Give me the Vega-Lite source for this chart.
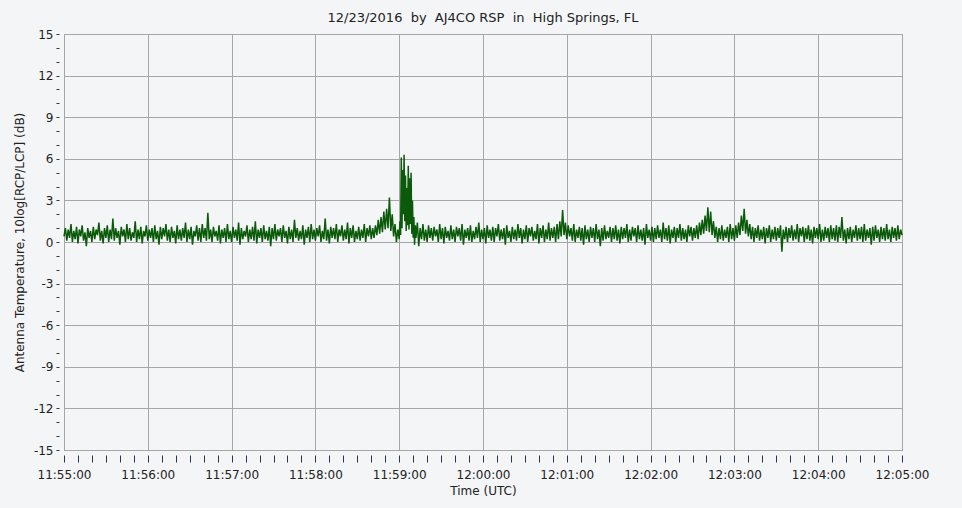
{
"$schema": "https://vega.github.io/schema/vega-lite/v6.json",
"width": 838, "height": 416,
"autosize": {"type": "none"},
"padding": {"left": 64, "top": 34, "right": 60, "bottom": 58},
"background": "#f4f5f7",
"config": {"view": {"stroke": "#9c9c9c", "fill": "#f4f5f7"}, "font": "DejaVu Sans"},
"title": {"text": "12/23/2016\u00a0\u00a0by\u00a0\u00a0AJ4CO RSP\u00a0\u00a0in\u00a0\u00a0High Springs, FL", "fontSize": 13, "fontWeight": "normal", "color": "#222222", "offset": 3, "anchor": "middle", "frame": "group"},
"data": {"values": [
{"t":0,"v":0.4},{"t":1,"v":1.0},{"t":2,"v":0.1},{"t":3,"v":0.9},{"t":4,"v":0.3},{"t":5,"v":1.3},{"t":6,"v":0.0},{"t":7,"v":0.8},{"t":8,"v":0.2},{"t":9,"v":1.1},
{"t":10,"v":-0.1},{"t":11,"v":0.9},{"t":12,"v":0.4},{"t":13,"v":1.2},{"t":14,"v":0.1},{"t":15,"v":0.7},{"t":16,"v":-0.3},{"t":17,"v":1.0},{"t":18,"v":0.3},{"t":19,"v":0.8},
{"t":20,"v":0.0},{"t":21,"v":1.1},{"t":22,"v":0.2},{"t":23,"v":0.9},{"t":24,"v":0.5},{"t":25,"v":1.4},{"t":26,"v":0.1},{"t":27,"v":0.8},{"t":28,"v":-0.1},{"t":29,"v":1.0},
{"t":30,"v":0.3},{"t":31,"v":1.2},{"t":32,"v":0.0},{"t":33,"v":0.9},{"t":34,"v":0.2},{"t":35,"v":1.7},{"t":36,"v":0.1},{"t":37,"v":1.0},{"t":38,"v":0.3},{"t":39,"v":0.8},
{"t":40,"v":-0.2},{"t":41,"v":1.1},{"t":42,"v":0.4},{"t":43,"v":0.9},{"t":44,"v":0.0},{"t":45,"v":1.3},{"t":46,"v":0.2},{"t":47,"v":1.0},{"t":48,"v":0.1},{"t":49,"v":0.7},
{"t":50,"v":0.3},{"t":51,"v":1.5},{"t":52,"v":0.0},{"t":53,"v":0.9},{"t":54,"v":0.2},{"t":55,"v":1.1},{"t":56,"v":-0.1},{"t":57,"v":0.8},{"t":58,"v":0.4},{"t":59,"v":1.2},
{"t":60,"v":0.1},{"t":61,"v":0.9},{"t":62,"v":0.3},{"t":63,"v":1.0},{"t":64,"v":0.0},{"t":65,"v":1.2},{"t":66,"v":0.2},{"t":67,"v":0.8},{"t":68,"v":-0.2},{"t":69,"v":1.1},
{"t":70,"v":0.2},{"t":71,"v":1.0},{"t":72,"v":0.4},{"t":73,"v":1.3},{"t":74,"v":0.1},{"t":75,"v":0.9},{"t":76,"v":0.0},{"t":77,"v":1.1},{"t":78,"v":0.3},{"t":79,"v":0.8},
{"t":80,"v":-0.1},{"t":81,"v":1.2},{"t":82,"v":0.2},{"t":83,"v":0.9},{"t":84,"v":0.1},{"t":85,"v":1.0},{"t":86,"v":0.3},{"t":87,"v":1.4},{"t":88,"v":0.0},{"t":89,"v":0.9},
{"t":90,"v":0.2},{"t":91,"v":1.1},{"t":92,"v":-0.2},{"t":93,"v":0.8},{"t":94,"v":0.4},{"t":95,"v":1.2},{"t":96,"v":0.1},{"t":97,"v":1.0},{"t":98,"v":0.0},{"t":99,"v":1.3},
{"t":100,"v":0.3},{"t":101,"v":1.0},{"t":102,"v":0.1},{"t":103,"v":2.1},{"t":104,"v":0.2},{"t":105,"v":0.9},{"t":106,"v":0.0},{"t":107,"v":1.1},{"t":108,"v":0.4},{"t":109,"v":0.8},
{"t":110,"v":0.1},{"t":111,"v":1.2},{"t":112,"v":-0.1},{"t":113,"v":0.9},{"t":114,"v":0.3},{"t":115,"v":1.0},{"t":116,"v":0.0},{"t":117,"v":1.3},{"t":118,"v":0.2},{"t":119,"v":0.8},
{"t":120,"v":0.0},{"t":121,"v":1.1},{"t":122,"v":0.3},{"t":123,"v":0.9},{"t":124,"v":0.1},{"t":125,"v":1.4},{"t":126,"v":-0.2},{"t":127,"v":1.0},{"t":128,"v":0.2},{"t":129,"v":0.8},
{"t":130,"v":0.4},{"t":131,"v":1.2},{"t":132,"v":0.0},{"t":133,"v":0.9},{"t":134,"v":0.2},{"t":135,"v":1.1},{"t":136,"v":0.1},{"t":137,"v":1.5},{"t":138,"v":-0.1},{"t":139,"v":0.9},
{"t":140,"v":0.3},{"t":141,"v":1.0},{"t":142,"v":0.0},{"t":143,"v":1.2},{"t":144,"v":0.2},{"t":145,"v":0.8},{"t":146,"v":0.1},{"t":147,"v":1.1},{"t":148,"v":-0.3},{"t":149,"v":1.0},
{"t":150,"v":0.2},{"t":151,"v":1.3},{"t":152,"v":0.1},{"t":153,"v":0.9},{"t":154,"v":0.4},{"t":155,"v":1.0},{"t":156,"v":0.0},{"t":157,"v":1.2},{"t":158,"v":0.3},{"t":159,"v":0.8},
{"t":160,"v":-0.1},{"t":161,"v":1.1},{"t":162,"v":0.2},{"t":163,"v":0.9},{"t":164,"v":0.0},{"t":165,"v":1.6},{"t":166,"v":0.3},{"t":167,"v":1.0},{"t":168,"v":0.1},{"t":169,"v":0.8},
{"t":170,"v":0.2},{"t":171,"v":1.2},{"t":172,"v":-0.2},{"t":173,"v":0.9},{"t":174,"v":0.3},{"t":175,"v":1.1},{"t":176,"v":0.0},{"t":177,"v":1.3},{"t":178,"v":0.2},{"t":179,"v":0.9},
{"t":180,"v":0.1},{"t":181,"v":1.0},{"t":182,"v":0.4},{"t":183,"v":1.2},{"t":184,"v":0.0},{"t":185,"v":0.8},{"t":186,"v":0.2},{"t":187,"v":1.7},{"t":188,"v":0.1},{"t":189,"v":0.9},
{"t":190,"v":-0.1},{"t":191,"v":1.1},{"t":192,"v":0.3},{"t":193,"v":1.0},{"t":194,"v":0.2},{"t":195,"v":1.3},{"t":196,"v":0.0},{"t":197,"v":0.9},{"t":198,"v":0.4},{"t":199,"v":1.2},
{"t":200,"v":0.1},{"t":201,"v":0.9},{"t":202,"v":0.2},{"t":203,"v":1.4},{"t":204,"v":-0.1},{"t":205,"v":1.0},{"t":206,"v":0.3},{"t":207,"v":1.2},{"t":208,"v":0.0},{"t":209,"v":0.8},
{"t":210,"v":0.2},{"t":211,"v":1.1},{"t":212,"v":0.1},{"t":213,"v":0.9},{"t":214,"v":0.3},{"t":215,"v":1.3},{"t":216,"v":0.0},{"t":217,"v":1.0},{"t":218,"v":0.4},{"t":219,"v":1.2},
{"t":220,"v":0.2},{"t":221,"v":1.0},{"t":222,"v":0.3},{"t":223,"v":1.2},{"t":224,"v":0.5},{"t":225,"v":1.6},{"t":226,"v":0.6},{"t":227,"v":1.8},{"t":228,"v":0.7},{"t":229,"v":2.2},
{"t":230,"v":0.9},{"t":231,"v":2.4},{"t":232,"v":1.0},{"t":233,"v":3.2},{"t":234,"v":0.8},{"t":235,"v":2.0},{"t":236,"v":0.4},{"t":237,"v":1.3},{"t":238,"v":0.0},{"t":239,"v":0.9},
{"t":240,"v":0.2},{"t":240.5,"v":1.5},{"t":241,"v":0.5},{"t":241.5,"v":6.1},{"t":242,"v":1.0},{"t":242.5,"v":5.2},{"t":243,"v":2.0},{"t":243.5,"v":6.3},{"t":244,"v":1.5},{"t":244.5,"v":4.8},
{"t":245,"v":0.8},{"t":245.5,"v":3.9},{"t":246,"v":1.2},{"t":246.5,"v":5.5},{"t":247,"v":0.9},{"t":247.5,"v":4.6},{"t":248,"v":1.3},{"t":248.5,"v":5.0},{"t":249,"v":0.6},{"t":249.5,"v":3.0},
{"t":250,"v":0.3},{"t":250.5,"v":1.8},{"t":251,"v":-0.2},{"t":251.5,"v":1.2},
{"t":252,"v":0.3},{"t":253,"v":1.4},{"t":254,"v":-0.3},{"t":255,"v":1.0},{"t":256,"v":0.2},{"t":257,"v":1.3},{"t":258,"v":0.1},{"t":259,"v":0.9},
{"t":260,"v":0.0},{"t":261,"v":1.2},{"t":262,"v":0.3},{"t":263,"v":1.0},{"t":264,"v":0.1},{"t":265,"v":1.1},{"t":266,"v":0.4},{"t":267,"v":0.9},{"t":268,"v":0.0},{"t":269,"v":1.3},
{"t":270,"v":0.2},{"t":271,"v":1.0},{"t":272,"v":-0.1},{"t":273,"v":1.1},{"t":274,"v":0.3},{"t":275,"v":0.8},{"t":276,"v":0.1},{"t":277,"v":1.2},{"t":278,"v":0.2},{"t":279,"v":0.9},
{"t":280,"v":0.0},{"t":281,"v":1.1},{"t":282,"v":0.4},{"t":283,"v":1.0},{"t":284,"v":0.1},{"t":285,"v":1.3},{"t":286,"v":-0.2},{"t":287,"v":0.9},{"t":288,"v":0.3},{"t":289,"v":1.0},
{"t":290,"v":0.1},{"t":291,"v":1.2},{"t":292,"v":0.0},{"t":293,"v":0.8},{"t":294,"v":0.2},{"t":295,"v":1.1},{"t":296,"v":0.3},{"t":297,"v":1.4},{"t":298,"v":0.0},{"t":299,"v":0.9},
{"t":300,"v":0.2},{"t":301,"v":1.0},{"t":302,"v":-0.1},{"t":303,"v":1.2},{"t":304,"v":0.3},{"t":305,"v":0.9},{"t":306,"v":0.1},{"t":307,"v":1.1},{"t":308,"v":0.0},{"t":309,"v":1.0},
{"t":310,"v":0.4},{"t":311,"v":1.3},{"t":312,"v":0.1},{"t":313,"v":0.9},{"t":314,"v":0.2},{"t":315,"v":1.0},{"t":316,"v":-0.2},{"t":317,"v":1.2},{"t":318,"v":0.3},{"t":319,"v":0.8},
{"t":320,"v":0.0},{"t":321,"v":1.1},{"t":322,"v":0.2},{"t":323,"v":0.9},{"t":324,"v":0.1},{"t":325,"v":1.3},{"t":326,"v":0.3},{"t":327,"v":1.0},{"t":328,"v":-0.1},{"t":329,"v":0.9},
{"t":330,"v":0.2},{"t":331,"v":1.2},{"t":332,"v":0.0},{"t":333,"v":1.0},{"t":334,"v":0.4},{"t":335,"v":1.1},{"t":336,"v":0.1},{"t":337,"v":0.8},{"t":338,"v":0.2},{"t":339,"v":1.3},
{"t":340,"v":-0.1},{"t":341,"v":1.0},{"t":342,"v":0.3},{"t":343,"v":1.2},{"t":344,"v":0.0},{"t":345,"v":0.9},{"t":346,"v":0.2},{"t":347,"v":1.4},{"t":348,"v":0.1},{"t":349,"v":1.0},
{"t":350,"v":0.3},{"t":351,"v":1.1},{"t":352,"v":0.0},{"t":353,"v":1.3},{"t":354,"v":0.2},{"t":355,"v":1.5},{"t":356,"v":0.4},{"t":357,"v":2.3},{"t":358,"v":0.5},{"t":359,"v":1.4},
{"t":360,"v":0.2},{"t":361,"v":1.2},{"t":362,"v":0.4},{"t":363,"v":1.0},{"t":364,"v":0.1},{"t":365,"v":1.3},{"t":366,"v":0.0},{"t":367,"v":0.9},{"t":368,"v":0.3},{"t":369,"v":1.1},
{"t":370,"v":0.1},{"t":371,"v":1.0},{"t":372,"v":-0.2},{"t":373,"v":1.2},{"t":374,"v":0.2},{"t":375,"v":0.9},{"t":376,"v":0.0},{"t":377,"v":1.1},{"t":378,"v":0.3},{"t":379,"v":1.0},
{"t":380,"v":0.0},{"t":381,"v":1.3},{"t":382,"v":0.2},{"t":383,"v":0.9},{"t":384,"v":-0.3},{"t":385,"v":1.0},{"t":386,"v":0.1},{"t":387,"v":1.2},{"t":388,"v":0.2},{"t":389,"v":0.8},
{"t":390,"v":0.3},{"t":391,"v":1.1},{"t":392,"v":0.0},{"t":393,"v":1.0},{"t":394,"v":0.2},{"t":395,"v":1.2},{"t":396,"v":0.1},{"t":397,"v":0.9},{"t":398,"v":-0.1},{"t":399,"v":1.1},
{"t":400,"v":0.2},{"t":401,"v":1.0},{"t":402,"v":0.3},{"t":403,"v":1.3},{"t":404,"v":0.0},{"t":405,"v":0.9},{"t":406,"v":0.1},{"t":407,"v":1.1},{"t":408,"v":0.4},{"t":409,"v":1.0},
{"t":410,"v":0.0},{"t":411,"v":1.2},{"t":412,"v":0.2},{"t":413,"v":0.9},{"t":414,"v":0.1},{"t":415,"v":1.0},{"t":416,"v":-0.2},{"t":417,"v":1.3},{"t":418,"v":0.3},{"t":419,"v":0.9},
{"t":420,"v":0.1},{"t":421,"v":1.1},{"t":422,"v":0.0},{"t":423,"v":1.0},{"t":424,"v":0.2},{"t":425,"v":1.2},{"t":426,"v":0.3},{"t":427,"v":0.9},{"t":428,"v":0.0},{"t":429,"v":1.4},
{"t":430,"v":0.2},{"t":431,"v":1.0},{"t":432,"v":0.1},{"t":433,"v":1.2},{"t":434,"v":-0.1},{"t":435,"v":0.9},{"t":436,"v":0.3},{"t":437,"v":1.1},{"t":438,"v":0.0},{"t":439,"v":1.0},
{"t":440,"v":0.3},{"t":441,"v":1.3},{"t":442,"v":0.1},{"t":443,"v":1.0},{"t":444,"v":0.2},{"t":445,"v":0.9},{"t":446,"v":0.0},{"t":447,"v":1.2},{"t":448,"v":0.4},{"t":449,"v":1.1},
{"t":450,"v":0.1},{"t":451,"v":1.0},{"t":452,"v":0.3},{"t":453,"v":1.2},{"t":454,"v":0.2},{"t":455,"v":1.4},{"t":456,"v":0.5},{"t":457,"v":1.6},{"t":458,"v":0.6},{"t":459,"v":1.9},
{"t":460,"v":0.8},{"t":461,"v":2.5},{"t":462,"v":0.7},{"t":463,"v":2.2},{"t":464,"v":0.5},{"t":465,"v":1.5},{"t":466,"v":0.3},{"t":467,"v":1.1},{"t":468,"v":0.0},{"t":469,"v":1.0},
{"t":470,"v":0.2},{"t":471,"v":1.2},{"t":472,"v":0.1},{"t":473,"v":0.9},{"t":474,"v":0.3},{"t":475,"v":1.1},{"t":476,"v":0.0},{"t":477,"v":1.3},{"t":478,"v":0.2},{"t":479,"v":1.0},
{"t":480,"v":0.1},{"t":481,"v":1.2},{"t":482,"v":0.3},{"t":483,"v":1.4},{"t":484,"v":0.5},{"t":485,"v":1.9},{"t":486,"v":0.8},{"t":487,"v":2.4},{"t":488,"v":0.6},{"t":489,"v":1.6},
{"t":490,"v":0.4},{"t":491,"v":1.3},{"t":492,"v":0.2},{"t":493,"v":1.1},{"t":494,"v":0.0},{"t":495,"v":1.0},{"t":496,"v":0.3},{"t":497,"v":1.2},{"t":498,"v":0.1},{"t":499,"v":0.9},
{"t":500,"v":0.2},{"t":501,"v":1.1},{"t":502,"v":-0.1},{"t":503,"v":1.0},{"t":504,"v":0.3},{"t":505,"v":1.2},{"t":506,"v":0.0},{"t":507,"v":0.9},{"t":508,"v":0.2},{"t":509,"v":1.1},
{"t":510,"v":0.1},{"t":511,"v":1.0},{"t":512,"v":0.3},{"t":513,"v":1.2},{"t":514,"v":-0.7},{"t":515,"v":0.9},{"t":516,"v":0.2},{"t":517,"v":1.1},{"t":518,"v":0.0},{"t":519,"v":1.0},
{"t":520,"v":0.3},{"t":521,"v":1.2},{"t":522,"v":0.1},{"t":523,"v":0.9},{"t":524,"v":0.2},{"t":525,"v":1.3},{"t":526,"v":0.0},{"t":527,"v":1.0},{"t":528,"v":0.4},{"t":529,"v":1.1},
{"t":530,"v":0.0},{"t":531,"v":1.0},{"t":532,"v":0.2},{"t":533,"v":1.2},{"t":534,"v":0.1},{"t":535,"v":0.9},{"t":536,"v":-0.1},{"t":537,"v":1.1},{"t":538,"v":0.3},{"t":539,"v":1.0},
{"t":540,"v":0.2},{"t":541,"v":1.3},{"t":542,"v":0.0},{"t":543,"v":0.9},{"t":544,"v":0.1},{"t":545,"v":1.1},{"t":546,"v":0.3},{"t":547,"v":1.0},{"t":548,"v":0.0},{"t":549,"v":1.2},
{"t":550,"v":0.2},{"t":551,"v":1.0},{"t":552,"v":0.1},{"t":553,"v":1.2},{"t":554,"v":0.0},{"t":555,"v":1.1},{"t":556,"v":0.3},{"t":557,"v":1.8},{"t":558,"v":0.1},{"t":559,"v":0.9},
{"t":560,"v":-0.1},{"t":561,"v":1.0},{"t":562,"v":0.2},{"t":563,"v":1.1},{"t":564,"v":0.0},{"t":565,"v":0.9},{"t":566,"v":0.3},{"t":567,"v":1.2},{"t":568,"v":0.1},{"t":569,"v":1.0},
{"t":570,"v":0.2},{"t":571,"v":1.1},{"t":572,"v":0.0},{"t":573,"v":1.3},{"t":574,"v":0.1},{"t":575,"v":0.9},{"t":576,"v":0.3},{"t":577,"v":1.0},{"t":578,"v":-0.2},{"t":579,"v":1.1},
{"t":580,"v":0.1},{"t":581,"v":1.2},{"t":582,"v":0.3},{"t":583,"v":0.9},{"t":584,"v":0.0},{"t":585,"v":1.1},{"t":586,"v":0.2},{"t":587,"v":1.0},{"t":588,"v":0.1},{"t":589,"v":1.3},
{"t":590,"v":0.2},{"t":591,"v":0.9},{"t":592,"v":0.0},{"t":593,"v":1.1},{"t":594,"v":0.3},{"t":595,"v":1.0},{"t":596,"v":0.1},{"t":597,"v":1.2},{"t":598,"v":0.2},{"t":599,"v":0.9},
{"t":600,"v":0.5}
]},
"mark": {"type": "line", "color": "#0a5a0a", "strokeWidth": 1.5},
"encoding": {
"x": {"field": "t", "type": "quantitative", "scale": {"domain": [0, 600], "nice": false, "zero": false},
 "axis": {"title": "Time (UTC)",
  "values": [0,10,20,30,40,50,60,70,80,90,100,110,120,130,140,150,160,170,180,190,200,210,220,230,240,250,260,270,280,290,300,310,320,330,340,350,360,370,380,390,400,410,420,430,440,450,460,470,480,490,500,510,520,530,540,550,560,570,580,590,600],
  "labelExpr": "datum.value % 60 === 0 ? ['11:55:00','11:56:00','11:57:00','11:58:00','11:59:00','12:00:00','12:01:00','12:02:00','12:03:00','12:04:00','12:05:00'][datum.value/60] : ''",
  "domain": false, "offset": 5, "tickSize": 7, "tickColor": "#2a3550", "tickWidth": 1,
  "labelPadding": 7, "labelFontSize": 12, "labelColor": "#222222", "labelOverlap": false, "labelBound": false, "labelFlush": false,
  "titleFontSize": 12, "titleFontWeight": "normal", "titleColor": "#222222", "titlePadding": 5,
  "grid": true, "gridColor": "#a6a6a6", "gridWidth": 1,
  "gridOpacity": {"condition": {"test": "datum.value % 60 === 0", "value": 1}, "value": 0},
  "encode": {"ticks": {"update": {"y2": {"signal": "datum.value % 60 === 0 ? 7 : 3"}}}}}},
"y": {"field": "v", "type": "quantitative", "scale": {"domain": [-15, 15], "nice": false},
 "axis": {"title": "Antenna Temperature, 10log[RCP/LCP] (dB)",
  "values": [-15,-14,-13,-12,-11,-10,-9,-8,-7,-6,-5,-4,-3,-2,-1,0,1,2,3,4,5,6,7,8,9,10,11,12,13,14,15],
  "labelExpr": "datum.value % 3 === 0 ? '' + datum.value : ''",
  "domain": false, "offset": 5, "tickSize": 3, "tickColor": "#333333", "tickWidth": 1,
  "labelPadding": 3, "labelFontSize": 12, "labelColor": "#222222", "labelOverlap": false, "labelBound": false, "labelFlush": false,
  "titleFontSize": 12, "titleFontWeight": "normal", "titleColor": "#222222", "titlePadding": 7,
  "grid": true, "gridColor": "#a6a6a6", "gridWidth": 1,
  "gridOpacity": {"condition": {"test": "datum.value % 3 === 0", "value": 1}, "value": 0}}}
}
}
